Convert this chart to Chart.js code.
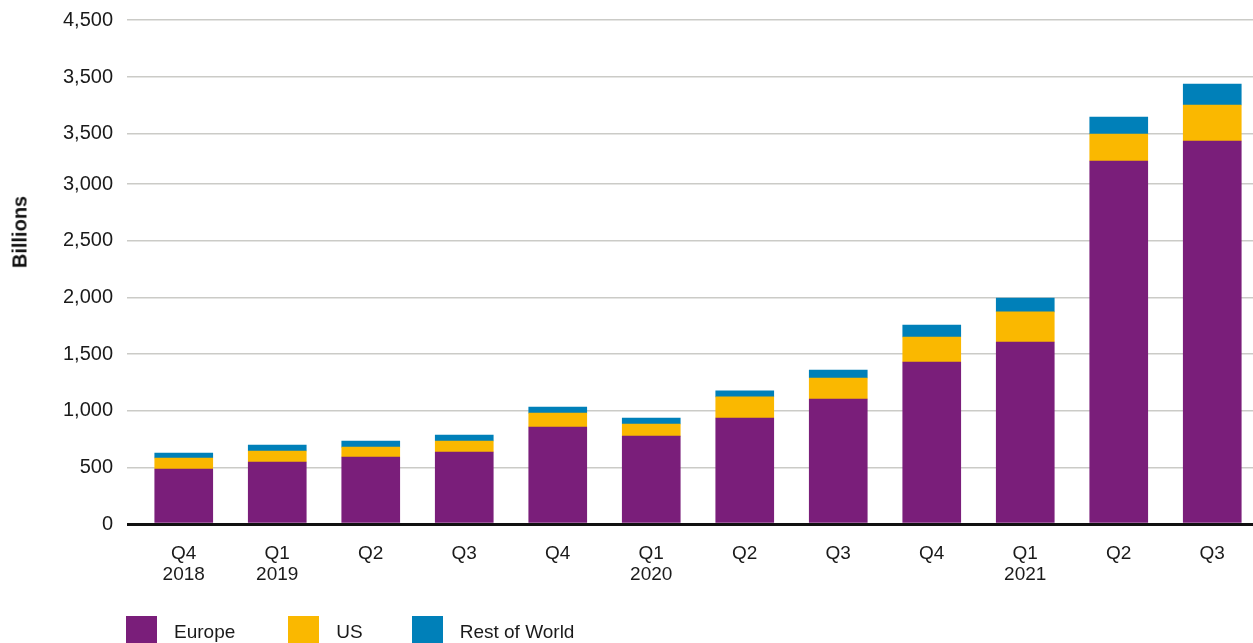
<!DOCTYPE html>
<html>
<head>
<meta charset="utf-8">
<script src="https://cdn.jsdelivr.net/npm/chart.js@4.4.1/dist/chart.umd.min.js"></script>
<style>
  html, body { margin: 0; padding: 0; background: #fff; overflow: hidden; width: 1253px; height: 643px; }
  #wrap { position: relative; width: 1253px; height: 643px; overflow: hidden; }
  #c { position: absolute; left: 0; top: 0; }
  #ytitle { position: absolute; left: 20px; top: 232px; transform: translate(-50%, -50%) rotate(-90deg);
    font: bold 20px "Liberation Sans", Arial, Helvetica, sans-serif; color: #111; white-space: nowrap; }
  #legend { position: absolute; left: 126px; top: 616px; display: flex; align-items: center;
    font: 19px "Liberation Sans", Arial, Helvetica, sans-serif; color: #1a1a1a; }
  .item { display: flex; align-items: center; }
  .sw { width: 31px; height: 31px; margin-right: 17px; }
</style>
</head>
<body>
<div id="wrap">
  <canvas id="c" width="1259" height="643"></canvas>
  <div id="ytitle">Billions</div>
  <div id="legend"></div>
</div>
<script>
const categories = [["Q4","2018"],["Q1","2019"],"Q2","Q3","Q4",["Q1","2020"],"Q2","Q3","Q4",["Q1","2021"],"Q2","Q3"];
const seriesNames = ["Europe", "US", "Rest of World"];
const europe = [485, 547, 591, 635, 856, 776, 935, 1103, 1429, 1606, 3203, 3379];
const us     = [97, 97, 88, 97, 123, 106, 186, 185, 221, 265, 238, 318];
const restOfWorld = [44, 53, 53, 53, 53, 53, 53, 71, 106, 123, 150, 185];
const tickValues = [0, 500, 1000, 1500, 2000, 2500, 3000, 3446, 3944, 4447];
const tickLabels = ["0", "500", "1,000", "1,500", "2,000", "2,500", "3,000", "3,500", "3,500", "4,500"];
const colors = ["#7a1e7a", "#fab800", "#0080b9"];

const FONT = '"Liberation Sans", Arial, Helvetica, sans-serif';

const datasets = [europe, us, restOfWorld].map((d, i) => ({
  label: seriesNames[i],
  data: d,
  backgroundColor: colors[i],
  borderWidth: 0,
  barThickness: 58
}));

new Chart(document.getElementById('c'), {
  type: 'bar',
  data: { labels: categories, datasets },
  options: {
    responsive: false,
    animation: false,
    devicePixelRatio: 1,
    layout: { padding: { top: 20, left: 0, right: 0, bottom: 0 } },
    plugins: { legend: { display: false }, tooltip: { enabled: false } },
    scales: {
      x: {
        stacked: true,
        grid: { display: false, drawTicks: false },
        border: { display: false },
        ticks: { color: '#1a1a1a', font: { family: FONT, size: 19, lineHeight: 1.1 }, padding: 19, maxRotation: 0, autoSkip: false },
        afterFit: s => { s.height = 119; }
      },
      y: {
        stacked: true,
        min: 0,
        max: tickValues[tickValues.length - 1],
        afterBuildTicks: s => { s.ticks = tickValues.map(v => ({ value: v })); },
        grid: {
          color: c => (c.tick && c.tick.value === 0) ? '#111' : '#cbcbc7',
          lineWidth: c => (c.tick && c.tick.value === 0) ? 3 : 1.5,
          drawTicks: true,
          tickLength: 10
        },
        border: { display: false },
        ticks: {
          color: '#1a1a1a',
          font: { family: FONT, size: 20 },
          padding: 14,
          callback: (v, i) => tickLabels[i]
        },
        afterFit: s => { s.width = 137; s.paddingTop = 12; s.paddingBottom = 12; }
      }
    }
  }
});

const leg = document.getElementById('legend');
const gaps = [53, 49, 0];
seriesNames.forEach((n, i) => {
  const it = document.createElement('div'); it.className = 'item'; it.style.marginRight = gaps[i] + 'px';
  const sw = document.createElement('div'); sw.className = 'sw'; sw.style.background = colors[i];
  const tx = document.createElement('span'); tx.textContent = n;
  it.appendChild(sw); it.appendChild(tx); leg.appendChild(it);
});
</script>
</body>
</html>
